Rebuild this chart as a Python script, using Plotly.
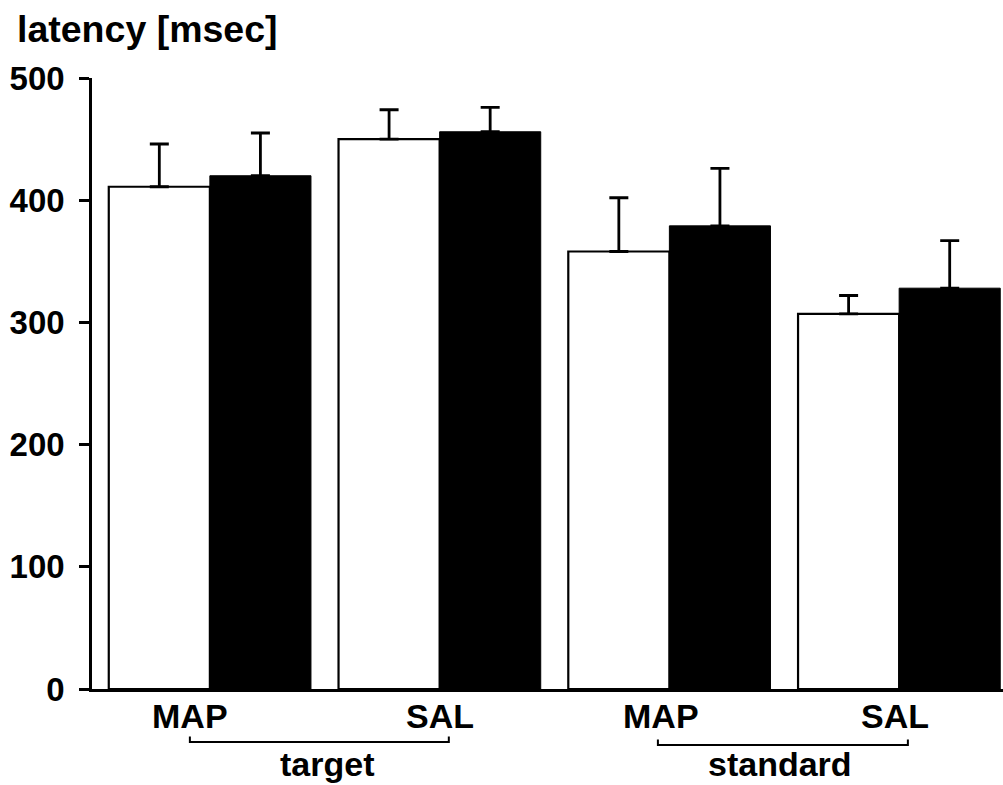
import plotly.graph_objects as go

categories = ["target MAP", "target SAL", "standard MAP", "standard SAL"]
open_vals = [411, 450, 358, 307]
open_err = [35, 24, 44, 15]
filled_vals = [420, 456, 379, 328]
filled_err = [35, 20, 47, 39]

drug_labels = ["MAP", "SAL", "MAP", "SAL"]
drug_shift = [-20, 0, -8, -4]
group_labels = ["target", "standard"]
y_ticks = [0, 100, 200, 300, 400, 500]

FONT = "Liberation Sans"

fig = go.Figure()
fig.add_bar(
    x=categories, y=open_vals, name="open",
    marker=dict(color="white", line=dict(color="black", width=2.2)),
    error_y=dict(type="data", array=open_err, arrayminus=[0] * 4, symmetric=False,
                 color="black", thickness=2.8, width=9.5),
)
fig.add_bar(
    x=categories, y=filled_vals, name="filled",
    marker=dict(color="black", line=dict(color="black", width=1)),
    error_y=dict(type="data", array=filled_err, arrayminus=[0] * 4, symmetric=False,
                 color="black", thickness=2.8, width=9.5),
)

annotations = []
for i, (lab, sh) in enumerate(zip(drug_labels, drug_shift)):
    annotations.append(dict(
        x=i, y=-0.044, xref="x", yref="paper", text=lab, showarrow=False,
        xshift=sh, xanchor="center", yanchor="middle",
        font=dict(family=FONT, size=34, color="black", weight="bold"),
    ))

bracket_left = [-0.087, -0.05]
bracket_right = [0.04, 0.038]
bracket_y = [-0.0867, -0.0917]
text_shift = [8, -3]
shapes = []
for g, lab in enumerate(group_labels):
    i0 = 2 * g
    x0 = i0 + bracket_left[g]
    x1 = i0 + 1 + bracket_right[g]
    yb = bracket_y[g]
    yt = yb + 0.009
    shapes.append(dict(type="path", xref="x", yref="paper",
                       path=f"M {x0},{yt} L {x0},{yb} L {x1},{yb} L {x1},{yt}",
                       line=dict(color="black", width=2)))
    annotations.append(dict(
        x=(x0 + x1) / 2, y=-0.1227, xref="x", yref="paper", text=lab, showarrow=False,
        xshift=text_shift[g], xanchor="center", yanchor="middle",
        font=dict(family=FONT, size=34, color="black", weight="bold"),
    ))

annotations.append(dict(
    x=-0.0845, y=1.080, xref="paper", yref="paper", text="latency [msec]",
    showarrow=False, xanchor="left", yanchor="middle",
    font=dict(family=FONT, size=37.5, color="black", weight="bold"),
))

fig.update_layout(
    width=1003, height=785,
    margin=dict(l=92, r=0, t=78, b=96),
    paper_bgcolor="white", plot_bgcolor="white",
    barmode="group", bargap=0.12, bargroupgap=0,
    showlegend=False,
    annotations=annotations, shapes=shapes,
    font=dict(family=FONT, color="black"),
)
fig.update_xaxes(
    range=[-0.513, 3.452], showticklabels=False, ticks="",
    showline=True, linecolor="black", linewidth=2.5, showgrid=False, zeroline=False,
)
fig.update_yaxes(
    range=[0, 500], tickvals=y_ticks, ticks="outside", ticklen=10, tickwidth=2.5,
    tickcolor="black", showline=True, linecolor="black", linewidth=2.5,
    showgrid=False, zeroline=False, ticklabelstandoff=8,
    tickfont=dict(family=FONT, size=33, color="black", weight="bold"),
)

fig.write_html("out.html", config={"displayModeBar": False},
               post_script="document.body.style.margin='0px';")
